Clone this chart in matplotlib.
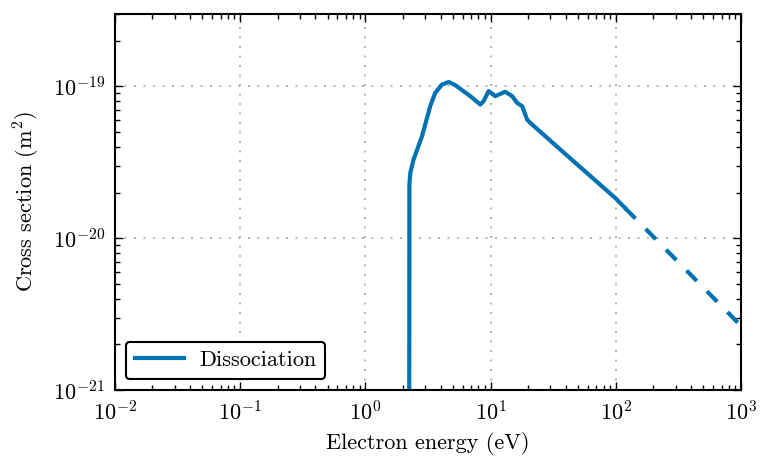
import numpy as np
import matplotlib
matplotlib.use("Agg")
import matplotlib.pyplot as plt

plt.rcParams["font.family"] = "serif"
plt.rcParams["font.serif"] = ["cmr10"]
plt.rcParams["mathtext.fontset"] = "cm"
plt.rcParams["axes.formatter.use_mathtext"] = True

# cross section (eV, m^2)
energy = [2.24, 2.25, 2.29, 2.43, 2.84, 3.30, 3.62, 4.10, 4.63, 5.23, 6.90, 8.29,
          8.81, 9.66, 10.9, 13.1, 14.9, 16.3, 17.9, 19.6, 20.8, 36.1, 99.3, 119.0]
sigma = [1e-23, 2.25e-20, 2.70e-20, 3.30e-20, 4.70e-20, 7.41e-20, 9.08e-20, 1.03e-19,
         1.07e-19, 1.02e-19, 8.63e-20, 7.60e-20, 8.0e-20, 9.33e-20, 8.63e-20, 9.23e-20,
         8.63e-20, 7.80e-20, 7.41e-20, 6.05e-20, 5.75e-20, 3.84e-20, 1.84e-20, 1.58e-20]
# extrapolated tail
energy_ext = [119.0, 1000.0]
sigma_ext = [1.58e-20, 2.65e-21]

color = "#0072b2"

fig = plt.figure(figsize=(7.6, 4.59), dpi=100)
ax = fig.add_axes([0.151, 0.150, 0.824, 0.8195])

ax.plot(energy, sigma, color=color, lw=3, label="Dissociation")
ax.plot(energy_ext, sigma_ext, color=color, lw=3, dashes=(3.5, 3.5))

ax.set_xscale("log")
ax.set_yscale("log")
ax.set_xlim(1e-2, 1e3)
ax.set_ylim(1e-21, 3e-19)

ax.set_xlabel("Electron energy (eV)", fontsize=16, labelpad=6)
ax.set_ylabel("Cross section (m$^2$)", fontsize=16, labelpad=8)

ax.grid(True, which="major", color="#aaaaaa", lw=1.2, dashes=(1.2, 4.5))
ax.tick_params(which="both", direction="in", top=True, right=True, labelsize=16)
ax.tick_params(which="major", length=6, width=1, pad=7)
ax.tick_params(which="minor", length=3.5, width=1)
for s in ax.spines.values():
    s.set_linewidth(1.5)

leg = ax.legend(loc="lower left", fontsize=16, handlelength=2.2, fancybox=True,
                borderaxespad=0.5, handletextpad=0.7)
leg.get_frame().set_edgecolor("black")
leg.get_frame().set_linewidth(1.5)
leg.get_frame().set_alpha(1)

fig.savefig("out.png", dpi=100)
